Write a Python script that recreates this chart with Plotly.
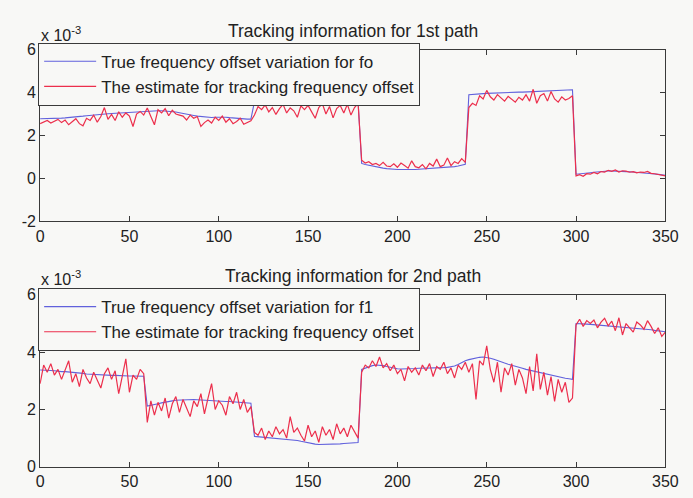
import numpy as np
import plotly.graph_objects as go

# Sample index (every second sample, 0..350)
samples = np.arange(0, 351, 2)

# ---- Path 1: true frequency offset fo (x 1e-3), one list per segment ----
fo_true_seg1 = [2.78, 2.78, 2.79, 2.79, 2.80, 2.80, 2.81, 2.82, 2.83, 2.85,
                2.86, 2.88, 2.90, 2.92, 2.94, 2.95, 2.97, 2.98, 3.00, 3.01,
                3.02, 3.03, 3.04, 3.05, 3.07, 3.08, 3.10, 3.11, 3.13, 3.14,
                3.15, 3.15, 3.16, 3.15, 3.15, 3.14, 3.13, 3.11, 3.09, 3.06,
                3.02, 2.99, 2.96, 2.93, 2.90, 2.88, 2.86, 2.85, 2.84, 2.85,
                2.86, 2.86, 2.85, 2.83, 2.81, 2.79, 2.78, 2.77, 2.76, 2.76]
fo_true_seg2 = [3.58, 3.58, 3.57, 3.56, 3.55, 3.54, 3.54, 3.53, 3.52, 3.52,
                3.51, 3.50, 3.50, 3.49, 3.48, 3.48, 3.49, 3.50, 3.51, 3.52,
                3.53, 3.54, 3.55, 3.56, 3.57, 3.57, 3.58, 3.58, 3.58, 3.58]
fo_true_seg3 = [0.70, 0.65, 0.61, 0.57, 0.54, 0.51, 0.48, 0.46, 0.44, 0.43,
                0.42, 0.42, 0.41, 0.41, 0.42, 0.42, 0.43, 0.44, 0.45, 0.46,
                0.47, 0.48, 0.48, 0.49, 0.50, 0.52, 0.55, 0.58, 0.62, 0.66]
fo_true_seg4 = [3.90, 3.92, 3.93, 3.94, 3.95, 3.96, 3.97, 3.98, 3.98, 3.99,
                4.00, 4.00, 4.01, 4.01, 4.02, 4.02, 4.03, 4.03, 4.04, 4.04,
                4.05, 4.06, 4.06, 4.07, 4.08, 4.09, 4.10, 4.11, 4.12, 4.13]
fo_true_seg5 = [0.20, 0.21, 0.23, 0.25, 0.27, 0.29, 0.31, 0.33, 0.34, 0.35,
                0.35, 0.35, 0.34, 0.33, 0.32, 0.31, 0.30, 0.29, 0.28, 0.27,
                0.25, 0.23, 0.21, 0.19, 0.17, 0.15]

# ---- Path 1: tracked estimate of fo (x 1e-3) ----
fo_est_seg1 = [2.55, 2.62, 2.70, 2.58, 2.68, 2.75, 2.60, 2.72, 2.50, 2.66,
               2.78, 2.55, 2.45, 2.80, 2.70, 2.95, 2.62, 2.88, 3.30, 2.75,
               2.98, 2.70, 3.10, 2.85, 3.05, 2.90, 2.42, 3.00, 3.12, 2.95,
               3.28, 2.88, 2.50, 3.20, 3.05, 3.25, 2.92, 3.18, 3.00, 2.95,
               2.90, 2.72, 2.95, 2.80, 2.88, 2.42, 2.60, 2.72, 2.58, 2.85,
               2.70, 2.90, 2.62, 2.78, 2.55, 2.65, 2.80, 2.52, 2.60, 2.68]
fo_est_seg2 = [2.95, 3.35, 3.20, 3.42, 3.10, 3.30, 2.98, 3.25, 3.45, 3.05,
               3.28, 3.15, 2.85, 3.38, 3.20, 3.40, 3.10, 2.80, 3.30, 3.48,
               3.00, 3.35, 2.82, 3.25, 3.40, 3.05, 3.45, 2.95, 3.30, 3.50]
fo_est_seg3 = [0.85, 0.72, 0.78, 0.65, 0.70, 0.60, 0.75, 0.58, 0.55, 0.68,
               0.52, 0.72, 0.60, 0.48, 0.82, 0.55, 0.50, 0.65, 0.45, 0.70,
               0.58, 0.90, 0.55, 0.62, 0.95, 0.60, 0.78, 0.70, 0.92, 0.75]
fo_est_seg4 = [3.30, 3.50, 3.40, 3.85, 3.70, 4.10, 3.80, 3.65, 3.90, 3.75,
               3.60, 3.82, 3.70, 3.55, 3.78, 3.65, 3.90, 3.60, 4.15, 3.50,
               3.85, 3.95, 3.60, 4.05, 3.70, 3.55, 3.80, 3.65, 3.72, 3.85]
fo_est_seg5 = [0.12, 0.18, 0.10, 0.22, 0.20, 0.28, 0.22, 0.32, 0.30, 0.38,
               0.33, 0.40, 0.30, 0.36, 0.34, 0.29, 0.32, 0.26, 0.30, 0.28,
               0.33, 0.24, 0.22, 0.18, 0.15, 0.12]

# ---- Path 2: true frequency offset f1 (x 1e-3) ----
f1_true_seg1 = [3.38, 3.38, 3.37, 3.36, 3.35, 3.33, 3.32, 3.32, 3.31, 3.30,
                3.30, 3.28, 3.26, 3.24, 3.23, 3.22, 3.21, 3.20, 3.20, 3.19,
                3.19, 3.19, 3.18, 3.18, 3.18, 3.17, 3.17, 3.17, 3.17, 3.16]
f1_true_seg2 = [2.12, 2.14, 2.17, 2.20, 2.23, 2.26, 2.28, 2.30, 2.32, 2.33,
                2.34, 2.35, 2.35, 2.35, 2.34, 2.33, 2.32, 2.31, 2.31, 2.30,
                2.30, 2.29, 2.28, 2.28, 2.27, 2.26, 2.25, 2.24, 2.23, 2.22]
f1_true_seg3 = [1.06, 1.05, 1.04, 1.03, 1.02, 1.01, 1.00, 0.99, 0.98, 0.97,
                0.96, 0.94, 0.92, 0.89, 0.86, 0.83, 0.80, 0.79, 0.78, 0.78,
                0.78, 0.78, 0.79, 0.79, 0.80, 0.81, 0.82, 0.83, 0.84, 0.85]
f1_true_seg4 = [3.40, 3.45, 3.50, 3.53, 3.55, 3.55, 3.53, 3.50, 3.47, 3.44,
                3.42, 3.41, 3.41, 3.42, 3.43, 3.43, 3.44, 3.44, 3.44, 3.44,
                3.44, 3.45, 3.45, 3.46, 3.47, 3.49, 3.52, 3.57, 3.64, 3.70,
                3.74, 3.77, 3.80, 3.82, 3.83, 3.82, 3.79, 3.75, 3.70, 3.66,
                3.62, 3.58, 3.55, 3.52, 3.48, 3.44, 3.40, 3.37, 3.34, 3.31,
                3.28, 3.25, 3.22, 3.19, 3.16, 3.13, 3.11, 3.09, 3.07, 3.05]
f1_true_seg5 = [5.00, 5.00, 4.99, 4.98, 4.97, 4.96, 4.95, 4.94, 4.93, 4.92,
                4.91, 4.90, 4.89, 4.88, 4.87, 4.86, 4.85, 4.84, 4.83, 4.82,
                4.80, 4.78, 4.76, 4.74, 4.72, 4.71]

# ---- Path 2: tracked estimate of f1 (x 1e-3) ----
f1_est_seg1 = [2.90, 3.55, 3.30, 3.60, 3.20, 3.40, 3.05, 3.35, 3.70, 2.95,
               3.25, 2.80, 3.40, 3.10, 2.90, 3.30, 3.00, 2.75, 3.25, 3.45,
               3.05, 3.35, 2.55, 3.15, 3.77, 2.60, 3.20, 3.05, 3.40, 3.25]
f1_est_seg2 = [1.55, 2.30, 1.80, 2.25, 1.95, 2.40, 1.70, 2.20, 2.45, 1.90,
               2.35, 2.05, 1.75, 2.30, 2.10, 2.55, 1.85, 2.40, 2.90, 2.00,
               2.30, 2.15, 1.80, 2.45, 2.20, 2.60, 2.00, 2.35, 1.90, 2.10]
f1_est_seg3 = [1.20, 1.10, 1.35, 0.95, 1.25, 1.05, 1.40, 1.15, 1.30, 1.00,
               1.75, 1.20, 1.35, 1.10, 0.90, 1.45, 1.05, 1.25, 0.85, 1.40,
               1.10, 1.30, 0.95, 1.50, 1.15, 1.35, 1.05, 1.45, 1.20, 1.00]
f1_est_seg4 = [3.30, 3.55, 3.45, 3.70, 3.50, 3.83, 3.45, 3.60, 3.35, 3.55,
               3.25, 3.40, 3.00, 3.50, 3.30, 3.45, 3.20, 3.55, 3.35, 3.60,
               3.15, 3.50, 3.40, 3.65, 3.25, 3.45, 3.10, 3.55, 3.40, 3.65,
               3.30, 3.60, 2.35, 3.70, 3.55, 4.22, 3.40, 2.95, 3.65, 2.60,
               3.45, 3.20, 3.60, 2.85, 3.40, 3.10, 2.55, 3.50, 2.65, 3.94,
               2.70, 3.30, 2.50, 3.15, 2.28, 3.05, 2.60, 2.95, 2.25, 2.40]
f1_est_seg5 = [4.95, 5.15, 4.90, 5.10, 5.00, 5.12, 4.85, 5.05, 5.18, 4.92,
               5.08, 4.75, 5.20, 4.60, 5.00, 4.85, 4.70, 5.05, 4.95, 4.80,
               5.10, 4.90, 4.65, 4.85, 4.55, 4.70]

scale = 1e-3
fo_true = np.concatenate([fo_true_seg1, fo_true_seg2, fo_true_seg3, fo_true_seg4, fo_true_seg5]) * scale
fo_est = np.concatenate([fo_est_seg1, fo_est_seg2, fo_est_seg3, fo_est_seg4, fo_est_seg5]) * scale
f1_true = np.concatenate([f1_true_seg1, f1_true_seg2, f1_true_seg3, f1_true_seg4, f1_true_seg5]) * scale
f1_est = np.concatenate([f1_est_seg1, f1_est_seg2, f1_est_seg3, f1_est_seg4, f1_est_seg5]) * scale

x_ticks = [0, 50, 100, 150, 200, 250, 300, 350]
y_ticks_top = [-2, 0, 2, 4, 6]
y_ticks_bottom = [0, 2, 4, 6]

BLUE = "#6161dc"
RED = "#ec2f4c"
AXIS = "#3a3a3a"
BG = "#f8f8f6"
TXT = "#222"
FONT = "Liberation Sans, Arial, sans-serif"

W, H = 693, 498

fig = go.Figure()

fig.add_trace(go.Scatter(x=samples, y=fo_true, mode="lines", line=dict(color=BLUE, width=1.1),
                         name="True frequency offset variation for fo",
                         xaxis="x", yaxis="y", legend="legend"))
fig.add_trace(go.Scatter(x=samples, y=fo_est, mode="lines", line=dict(color=RED, width=1.2),
                         name="The estimate for tracking frequency offset",
                         xaxis="x", yaxis="y", legend="legend"))
fig.add_trace(go.Scatter(x=samples, y=f1_true, mode="lines", line=dict(color=BLUE, width=1.1),
                         name="True frequency offset variation for f1",
                         xaxis="x2", yaxis="y2", legend="legend2"))
fig.add_trace(go.Scatter(x=samples, y=f1_est, mode="lines", line=dict(color=RED, width=1.2),
                         name="The estimate for tracking frequency offset",
                         xaxis="x2", yaxis="y2", legend="legend2"))

# pixel-based layout helpers
def px_x(p):
    return p / W

def px_y(p):
    return 1 - p / H

x_dom = [px_x(37), px_x(678)]
top_dom = [px_y(221), px_y(43)]
bot_dom = [px_y(475), px_y(297)]

common_axis = dict(showline=True, linecolor=AXIS, linewidth=1, mirror="ticks",
                   ticks="inside", ticklen=5, tickcolor=AXIS, showgrid=False,
                   zeroline=False, tickfont=dict(size=16, color=TXT, family=FONT))

legend_style = dict(xanchor="left", yanchor="top", bgcolor=BG, bordercolor=AXIS, borderwidth=1,
                    font=dict(size=17, family=FONT, color=TXT),
                    traceorder="normal", itemwidth=52)

fig.update_layout(
    width=W, height=H,
    margin=dict(l=0, r=0, t=0, b=0),
    paper_bgcolor=BG, plot_bgcolor=BG,
    font=dict(family=FONT, color=TXT),
    xaxis=dict(domain=x_dom, range=[0, 350], tickvals=x_ticks, anchor="y", **common_axis),
    yaxis=dict(domain=top_dom, range=[-2e-3, 6e-3], tickvals=[v * scale for v in y_ticks_top],
               ticktext=[str(v) for v in y_ticks_top], anchor="x", **common_axis),
    xaxis2=dict(domain=x_dom, range=[0, 350], tickvals=x_ticks, anchor="y2", **common_axis),
    yaxis2=dict(domain=bot_dom, range=[0, 6e-3], tickvals=[v * scale for v in y_ticks_bottom],
                ticktext=[str(v) for v in y_ticks_bottom], anchor="x2", **common_axis),
    legend=dict(x=px_x(35), y=px_y(36), **legend_style),
    legend2=dict(x=px_x(35), y=px_y(290), **legend_style),
    showlegend=True,
)

title_font = dict(size=17.5, family=FONT, color=TXT)
annotations = [
    dict(text="Tracking information for 1st path", x=(x_dom[0] + x_dom[1]) / 2, y=px_y(24),
         xref="paper", yref="paper", yanchor="middle", showarrow=False, font=title_font),
    dict(text="Tracking information for 2nd path", x=(x_dom[0] + x_dom[1]) / 2, y=px_y(277),
         xref="paper", yref="paper", yanchor="middle", showarrow=False, font=title_font),
    dict(text="x 10<sup>-3</sup>", x=px_x(36), y=px_y(27), xanchor="left", yanchor="middle",
         xref="paper", yref="paper", showarrow=False, font=dict(size=16, family=FONT, color=TXT)),
    dict(text="x 10<sup>-3</sup>", x=px_x(36), y=px_y(280), xanchor="left", yanchor="middle",
         xref="paper", yref="paper", showarrow=False, font=dict(size=16, family=FONT, color=TXT)),
]
fig.update_layout(annotations=annotations)

fig.write_html("out.html")
